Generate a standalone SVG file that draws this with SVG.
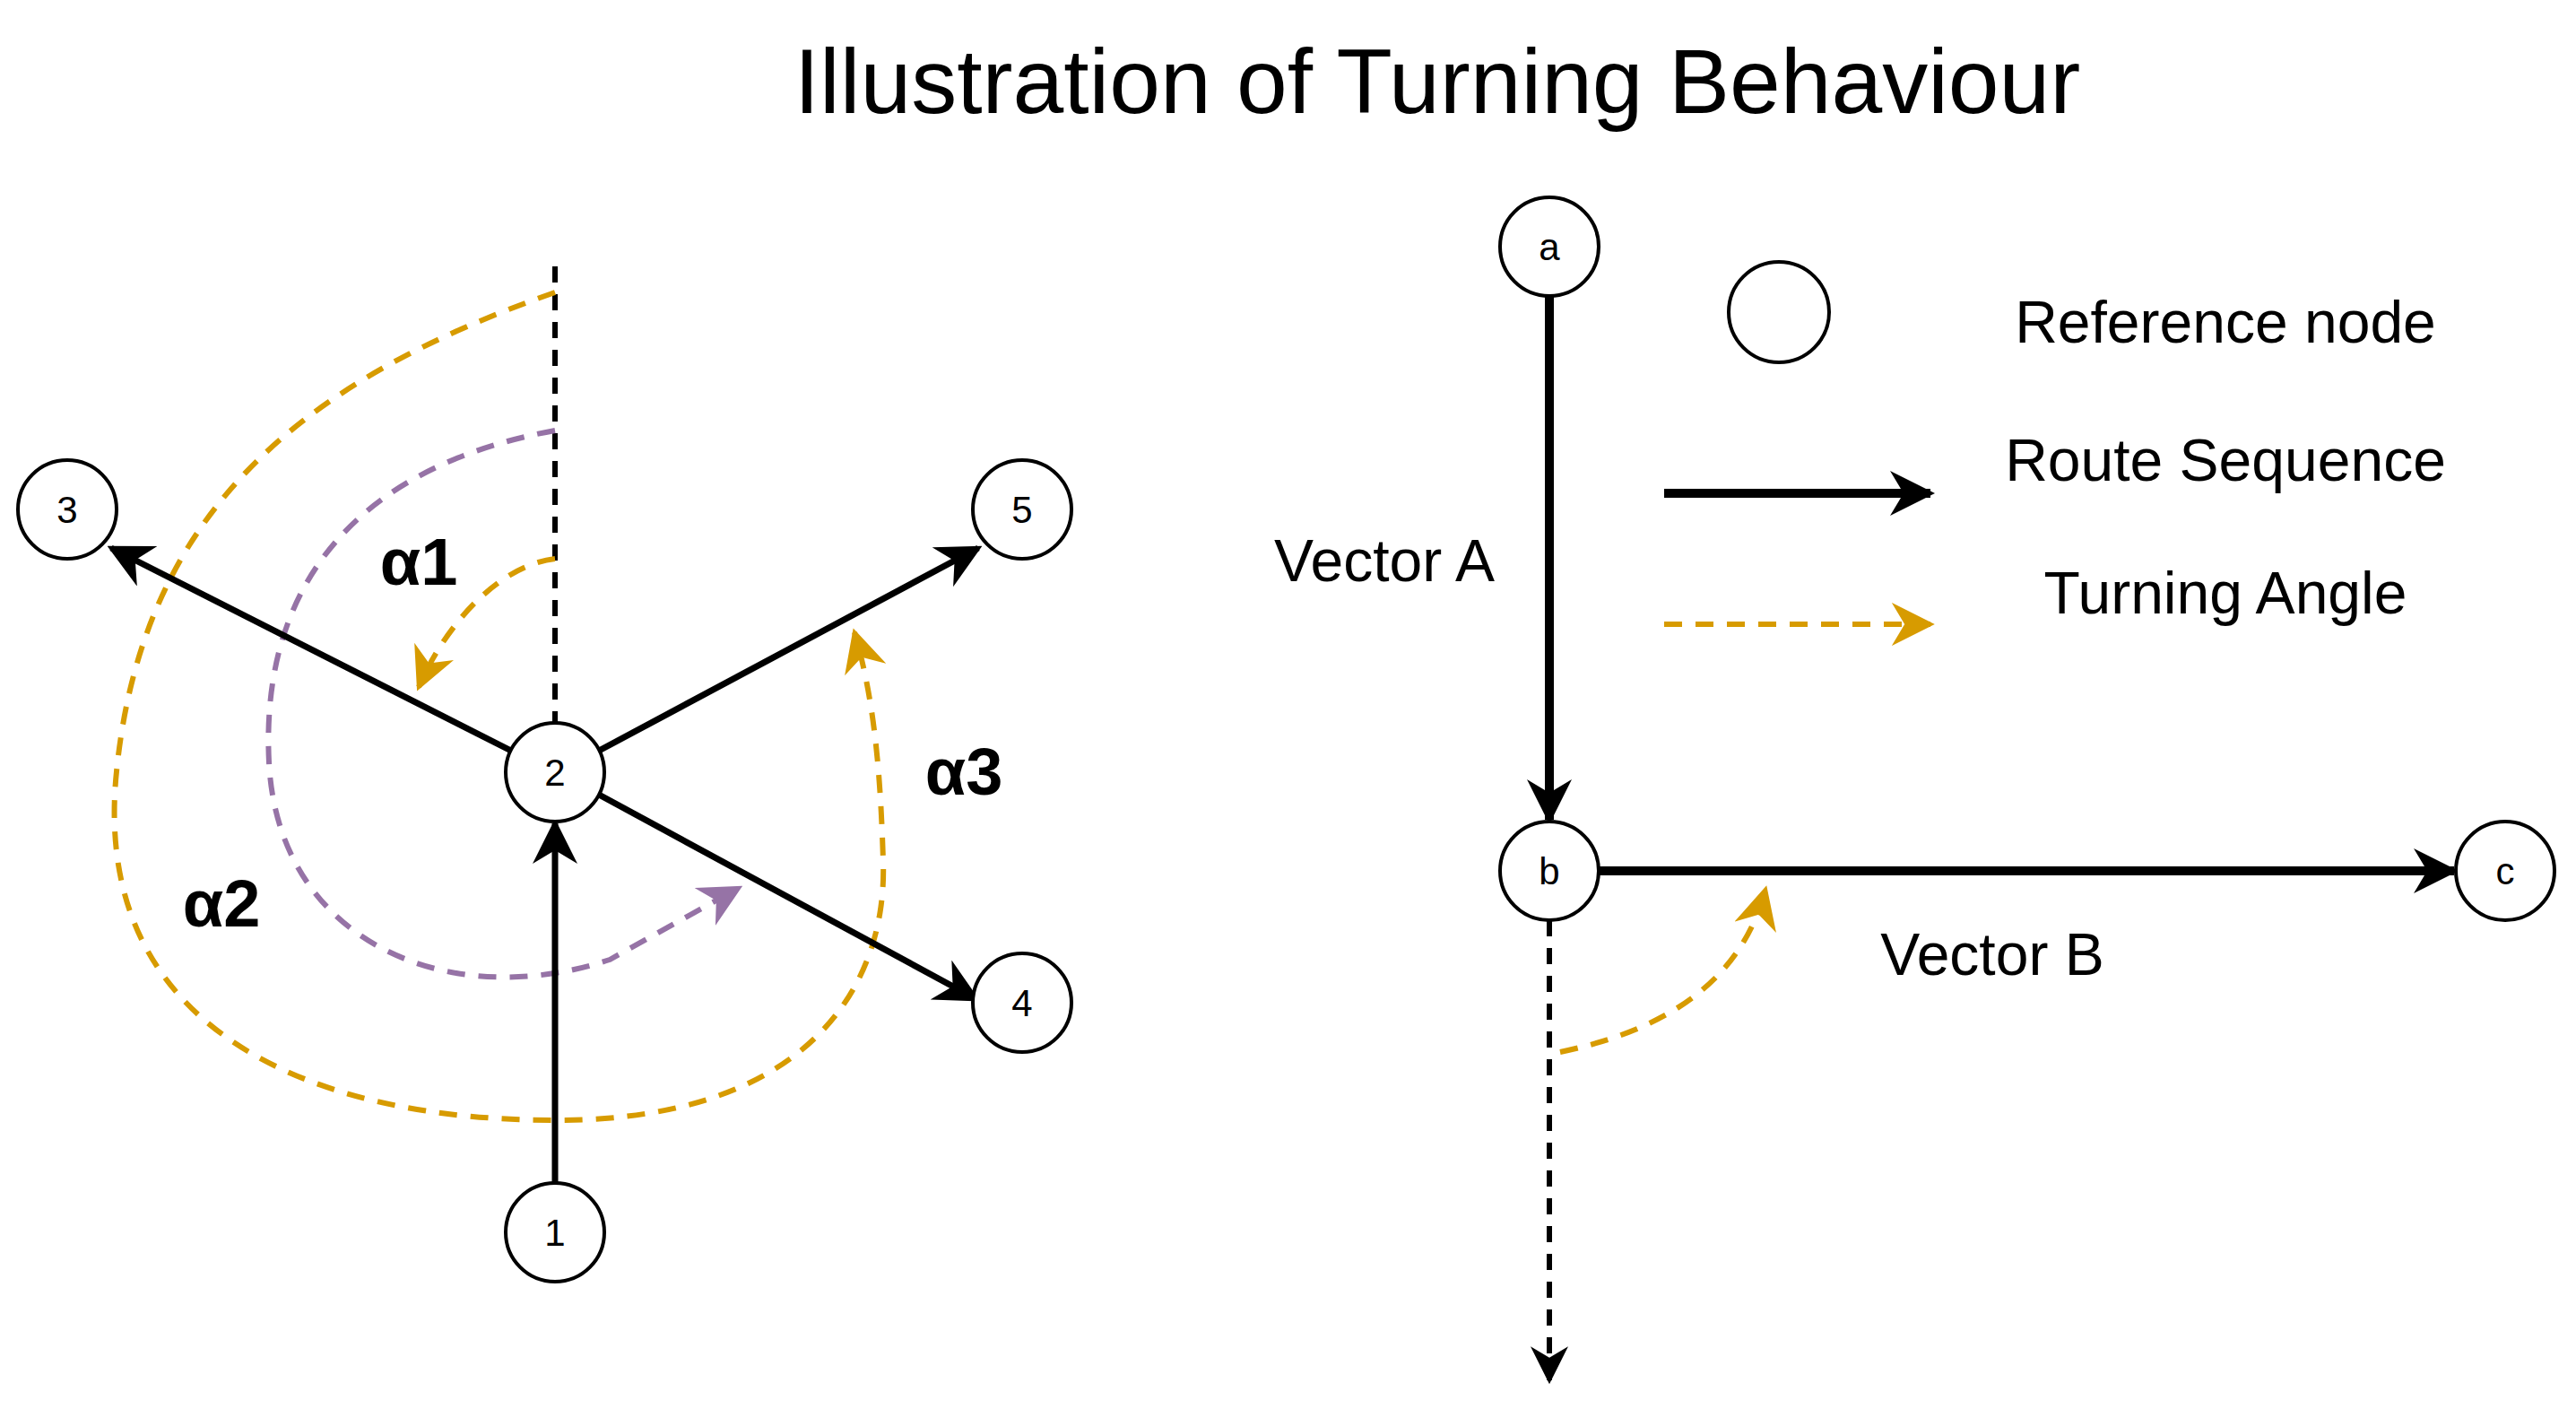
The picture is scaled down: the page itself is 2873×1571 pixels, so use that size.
<svg xmlns="http://www.w3.org/2000/svg" width="2873" height="1571" viewBox="0 0 2873 1571">
<style>
.n{fill:#fff;stroke:#000;stroke-width:4}
.nt{font-family:"Liberation Sans",Arial,sans-serif;font-size:42px;text-anchor:middle}
.t{font-family:"Liberation Sans",Arial,sans-serif;font-size:66px;text-anchor:middle;fill:#000}
.a{font-family:"Liberation Sans",Arial,sans-serif;font-size:74px;font-weight:bold;text-anchor:middle}
.k{stroke:#000;stroke-width:7;fill:none}
.kb{stroke:#000;stroke-width:10;fill:none}
.kd{stroke:#000;stroke-width:6;fill:none;stroke-dasharray:18 13}
.o{stroke:#D79B00;stroke-width:6;fill:none;stroke-dasharray:20 15}
.p{stroke:#9673A6;stroke-width:6;fill:none;stroke-dasharray:20 15}
</style>
<defs>
<marker id="mk" viewBox="0 0 10 10" refX="9" refY="5" markerWidth="50" markerHeight="50" markerUnits="userSpaceOnUse" orient="auto"><path d="M0,0 L10,5 L0,10 L3,5 Z" fill="#000"/></marker>
<marker id="mkd" viewBox="0 0 10 10" refX="9" refY="5" markerWidth="42" markerHeight="42" markerUnits="userSpaceOnUse" orient="auto"><path d="M0,0 L10,5 L0,10 L3,5 Z" fill="#000"/></marker>
<marker id="mo" viewBox="0 0 10 10" refX="9" refY="5" markerWidth="48" markerHeight="48" markerUnits="userSpaceOnUse" orient="auto"><path d="M0,0 L10,5 L0,10 L3,5 Z" fill="#D79B00"/></marker>
<marker id="mp" viewBox="0 0 10 10" refX="9" refY="5" markerWidth="48" markerHeight="48" markerUnits="userSpaceOnUse" orient="auto"><path d="M0,0 L10,5 L0,10 L3,5 Z" fill="#9673A6"/></marker>
</defs>
<text x="1603" y="126" class="t" style="font-size:102px">Illustration of Turning Behaviour</text>
<g id="connectors">
<line class="kd" x1="619" y1="297" x2="619" y2="806"/>
<path class="o" d="M619,623 C560,630 500,690 467,766" marker-end="url(#mo)"/>
<path class="p" d="M619,480 C400,520 290,650 300,850 C310,1050 500,1130 680,1070 L824,990" marker-end="url(#mp)"/>
<path class="o" d="M619,326 C350,420 160,560 130,860 C100,1150 350,1250 623,1249 C900,1248 990,1100 985,960 C982,860 975,780 953,705" marker-end="url(#mo)"/>
<line class="k" x1="619" y1="1319" x2="619" y2="918" marker-end="url(#mk)"/>
<line class="k" x1="570" y1="837" x2="124" y2="611" marker-end="url(#mk)"/>
<line class="k" x1="668" y1="837" x2="1091" y2="611" marker-end="url(#mk)"/>
<line class="k" x1="668" y1="886" x2="1089" y2="1114" marker-end="url(#mk)"/>
<line class="kb" x1="1728" y1="330" x2="1728" y2="914" marker-end="url(#mk)"/>
<line class="kb" x1="1783" y1="971" x2="2737" y2="971" marker-end="url(#mk)"/>
<line class="kd" x1="1728" y1="1026" x2="1728" y2="1539" marker-end="url(#mkd)"/>
<path class="o" d="M1740,1173 C1850,1150 1940,1100 1969,992" marker-end="url(#mo)"/>
<line class="kb" x1="1856" y1="550" x2="2153" y2="550" marker-end="url(#mk)"/>
<line class="o" x1="1856" y1="696" x2="2153" y2="696" marker-end="url(#mo)"/>
</g>
<g id="n1"><circle class="n" cx="619" cy="1374" r="55"/><text class="nt" x="619" y="1389">1</text></g>
<g id="n2"><circle class="n" cx="619" cy="861" r="55"/><text class="nt" x="619" y="876">2</text></g>
<g id="n3"><circle class="n" cx="75" cy="568" r="55"/><text class="nt" x="75" y="583">3</text></g>
<g id="n4"><circle class="n" cx="1140" cy="1118" r="55"/><text class="nt" x="1140" y="1133">4</text></g>
<g id="n5"><circle class="n" cx="1140" cy="568" r="55"/><text class="nt" x="1140" y="583">5</text></g>
<g id="na"><circle class="n" cx="1728" cy="275" r="55"/><text class="nt" x="1728" y="290">a</text></g>
<g id="nb"><circle class="n" cx="1728" cy="971" r="55"/><text class="nt" x="1728" y="986">b</text></g>
<g id="nc"><circle class="n" cx="2794" cy="971" r="55"/><text class="nt" x="2794" y="986">c</text></g>
<g id="legend-node"><circle class="n" cx="1984" cy="348" r="56"/></g>
<text class="t" x="2482" y="382">Reference node</text>
<text class="t" x="2482" y="536">Route Sequence</text>
<text class="t" x="2482" y="684">Turning Angle</text>
<text class="t" x="1544" y="648">Vector A</text>
<text class="t" x="2222" y="1087">Vector B</text>
<text class="a" x="467" y="652">α1</text>
<text class="a" x="247" y="1033">α2</text>
<text class="a" x="1075" y="886">α3</text>
</svg>
